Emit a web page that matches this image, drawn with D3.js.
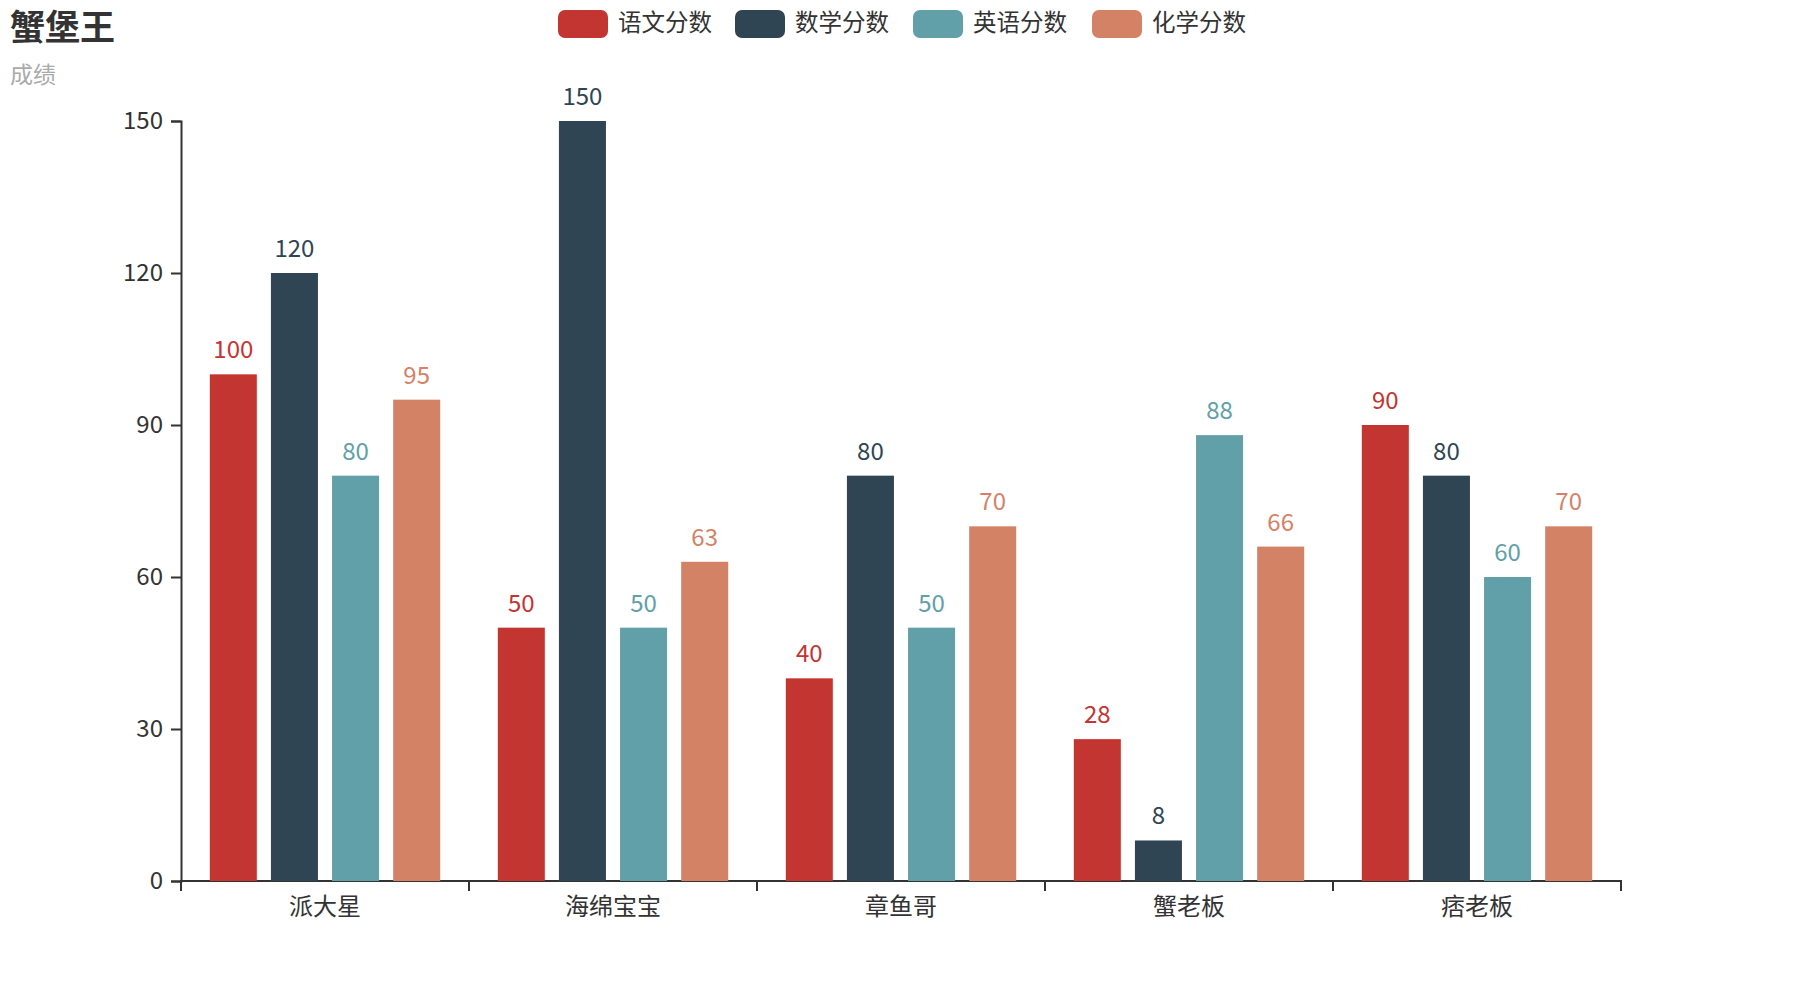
<!DOCTYPE html>
<html><head><meta charset="utf-8">
<script src="https://cdn.jsdelivr.net/npm/d3@7"></script>
<style>body{margin:0;background:#fff}svg{display:block;font-family:"Microsoft YaHei","Noto Sans CJK SC",sans-serif}</style>
</head><body>
<svg id="c" width="1800" height="1000"></svg>
<script>
const categories = ["派大星","海绵宝宝","章鱼哥","蟹老板","痞老板"];
const seriesNames = ["语文分数","数学分数","英语分数","化学分数"];
const chinese = [100,50,40,28,90];
const math = [120,150,80,8,80];
const english = [80,50,50,88,60];
const chemistry = [95,63,70,66,70];
const yTicks = [0,30,60,90,120,150];
const colors = ["#c23531","#2f4554","#61a0a8","#d48265"];
const seriesValues = [chinese, math, english, chemistry];

(function(){
const svg = d3.select("#c");
const pLeft = 181, pRight = 1621, pTop = 121, pBottom = 881;
const x = d3.scaleBand().domain(categories).range([pLeft, pRight]).paddingInner(0).paddingOuter(0);
const bw = x.bandwidth();
const barW = bw * 0.8 / 4.9;
const gap = barW * 0.3;
const y = d3.scaleLinear().domain([0,150]).range([pBottom, pTop]);

// title
svg.append("text").attr("x",10).attr("y",40).attr("font-size",35).attr("font-weight","bold").attr("fill","#333").text("蟹堡王");
svg.append("text").attr("x",10).attr("y",83).attr("font-size",23).attr("fill","#aaa").text("成绩");

// legend
const legendX = [558,735,913,1092];
seriesNames.forEach((n,i)=>{
  const g = svg.append("g").attr("transform",`translate(${legendX[i]},10)`);
  g.append("rect").attr("width",50).attr("height",28).attr("rx",7).attr("fill",colors[i]);
  g.append("text").attr("x",60).attr("y",21).attr("font-size",23.5).attr("fill","#333").text(n);
});

// y axis
const yAxis = svg.append("g").attr("transform",`translate(${pLeft},0)`)
  .call(d3.axisLeft(y).tickValues(yTicks).tickSize(10).tickPadding(8));
yAxis.select(".domain").attr("stroke","#333").attr("stroke-width",2);
yAxis.selectAll(".tick line").attr("stroke","#333").attr("stroke-width",2);
yAxis.selectAll(".tick text").attr("font-size",24).attr("fill","#333").attr("font-family","'Microsoft YaHei','Noto Sans CJK SC',sans-serif");

// x axis
const xAxis = svg.append("g").attr("transform",`translate(0,${pBottom})`)
  .call(d3.axisBottom(x).tickSize(0).tickPadding(12));
xAxis.select(".domain").attr("stroke","#333").attr("stroke-width",2).attr("d",`M${pLeft},10V0H${pRight}V10`);
xAxis.selectAll(".tick text").attr("font-size",24).attr("fill","#333").attr("dy","0.9em").attr("font-family","'Microsoft YaHei','Noto Sans CJK SC',sans-serif");
categories.forEach(c=>{
  xAxis.append("line").attr("x1",x(c)).attr("x2",x(c)).attr("y1",0).attr("y2",10).attr("stroke","#333").attr("stroke-width",2);
});

// bars
seriesValues.forEach((vals,si)=>{
  const g = svg.append("g");
  categories.forEach((c,ci)=>{
    const bx = x(c) + bw*0.1 + si*(barW+gap);
    g.append("rect").attr("x",bx).attr("y",y(vals[ci])).attr("width",barW).attr("height",y(0)-y(vals[ci])).attr("fill",colors[si]);
    g.append("text").attr("x",bx+barW/2).attr("y",y(vals[ci])-16).attr("text-anchor","middle")
      .attr("font-size",24).attr("fill",colors[si]).text(vals[ci]);
  });
});
})();
</script>
</body></html>
